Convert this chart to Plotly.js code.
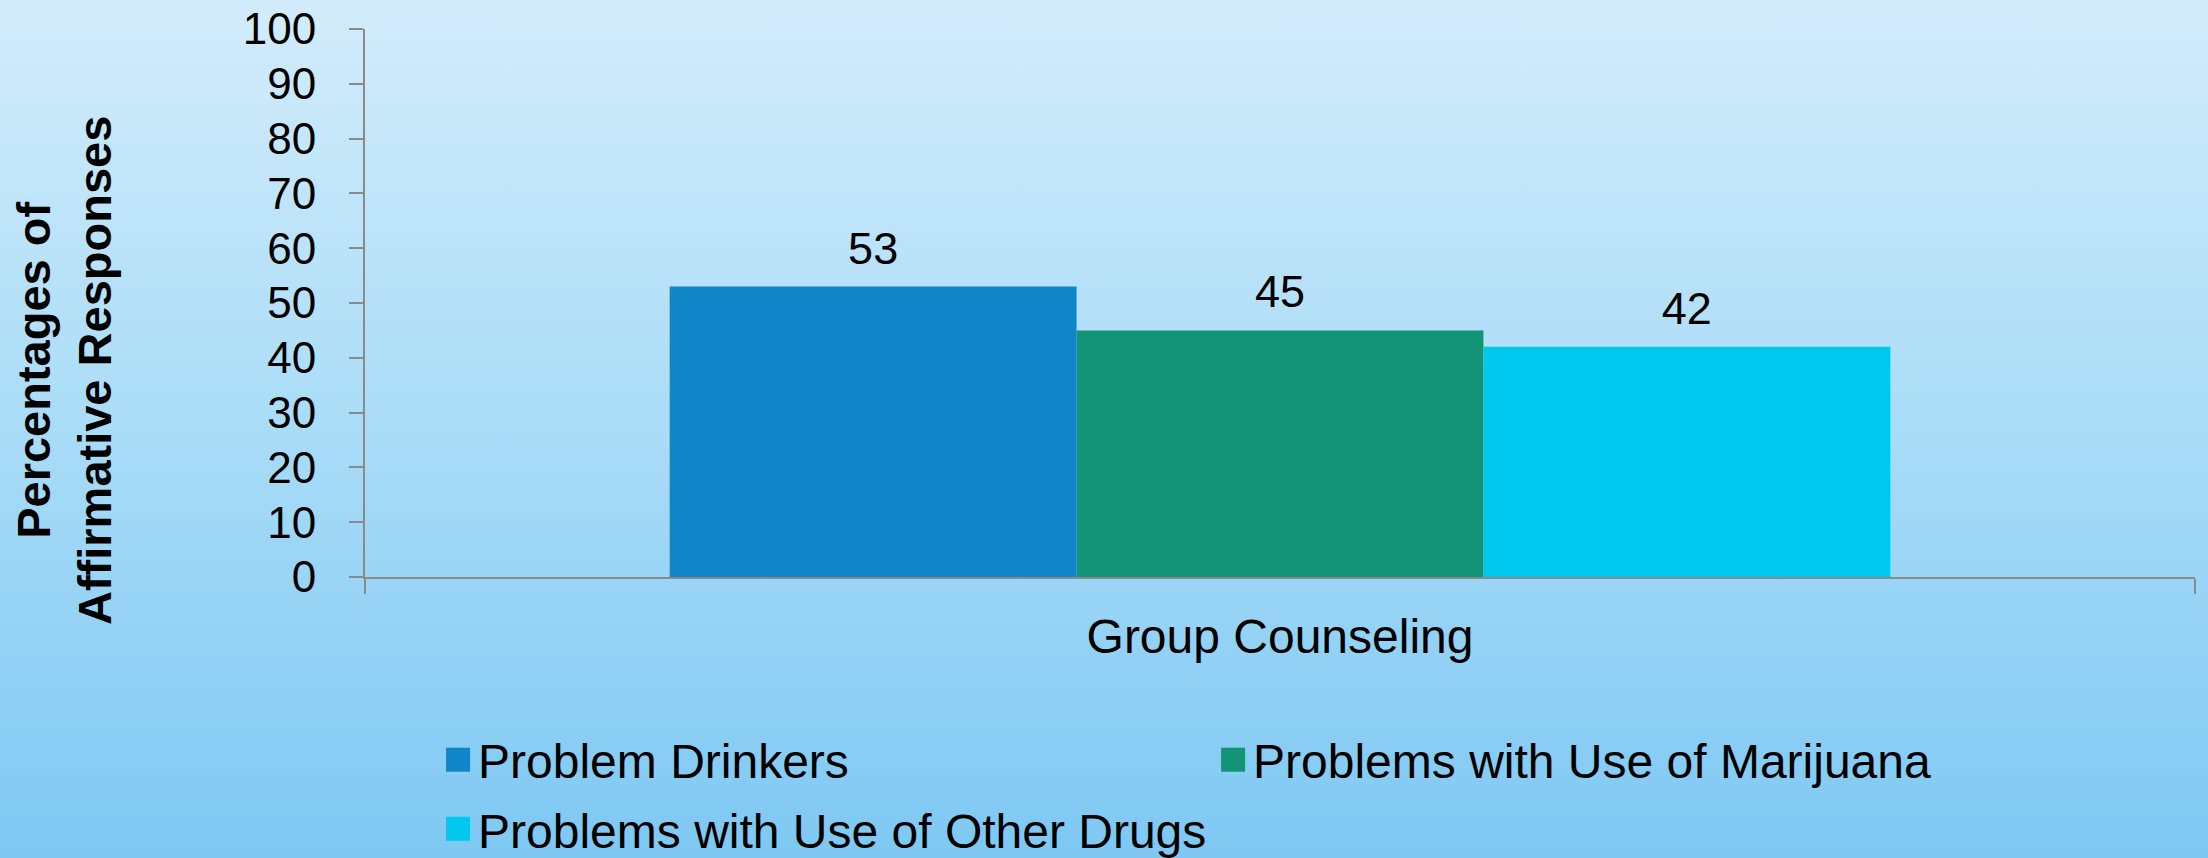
<!DOCTYPE html>
<html>
<head>
<meta charset="utf-8">
<script src="https://cdn.plot.ly/plotly-3.0.1.min.js"></script>
<style>
  html, body { margin: 0; padding: 0; }
  body { width: 2208px; height: 858px; background: linear-gradient(to bottom, #d3ecfb 0%, #a9dcf7 50%, #7ec8f3 100%); }
  #chart { width: 2208px; height: 858px; }
</style>
</head>
<body>
<div id="chart"></div>
<script>
// ---- data ----
const categories = ["Group Counseling"];
const seriesNames = ["Problem Drinkers", "Problems with Use of Marijuana", "Problems with Use of Other Drugs"];
const problemDrinkers = [53];
const marijuana = [45];
const otherDrugs = [42];
const seriesColors = ["#1085c8", "#149476", "#00c7ee"];
const seriesLegends = ["legend", "legend", "legend2"];
const yTickVals = [0, 10, 20, 30, 40, 50, 60, 70, 80, 90, 100];
const yTitleLines = ["Percentages of", "Affirmative Responses"];

const FONT = "'Liberation Sans', Arial, Helvetica, sans-serif";
const seriesValues = [problemDrinkers, marijuana, otherDrugs];

const traces = seriesNames.map((name, i) => ({
  type: "bar",
  name: name,
  legend: seriesLegends[i],
  x: categories,
  y: seriesValues[i],
  marker: { color: seriesColors[i], line: { width: 0 } },
  text: seriesValues[i].map(String),
  textposition: "outside",
  textfont: { family: FONT, size: 45, color: "#000000" },
  cliponaxis: false,
  hoverinfo: "x+y+name"
}));

const legendBase = {
  orientation: "h",
  xref: "container", yref: "container",
  x: 0.1984,
  xanchor: "left", yanchor: "top",
  font: { family: FONT, size: 48, color: "#000000" },
  entrywidth: 730,
  entrywidthmode: "pixels",
  bgcolor: "rgba(0,0,0,0)",
  traceorder: "normal"
};

const layout = {
  width: 2208,
  height: 858,
  margin: { l: 365, r: 13, t: 29, b: 281, pad: 0 },
  paper_bgcolor: "rgba(0,0,0,0)",
  plot_bgcolor: "rgba(0,0,0,0)",
  font: { family: FONT, color: "#000000" },
  barmode: "group",
  bargap: 0.333,
  bargroupgap: 0,
  showlegend: true,
  legend: Object.assign({}, legendBase, { y: 0.1585 }),
  legend2: Object.assign({}, legendBase, { y: 0.078 }),
  xaxis: {
    type: "category",
    showline: true, linecolor: "#8a8a8a", linewidth: 2,
    ticks: "outside", tickson: "boundaries", ticklen: 15, tickcolor: "#8a8a8a", tickwidth: 2,
    tickfont: { family: FONT, size: 48, color: "#000000" },
    ticklabelstandoff: 16,
    showgrid: false, zeroline: false,
    fixedrange: true
  },
  yaxis: {
    range: [0, 100],
    tickvals: yTickVals,
    ticktext: yTickVals.map(String),
    showline: true, linecolor: "#8a8a8a", linewidth: 2,
    ticks: "outside", ticklen: 14, tickcolor: "#8a8a8a", tickwidth: 2,
    tickfont: { family: FONT, size: 44, color: "#000000" },
    ticklabelstandoff: 24,
    showgrid: false, zeroline: false,
    fixedrange: true
  },
  annotations: [{
    xref: "paper", yref: "paper",
    x: 0, y: 0.5,
    xshift: -301, yshift: -68,
    xanchor: "center", yanchor: "middle",
    text: "<b>" + yTitleLines.join("<br>") + "</b>",
    textangle: -90,
    showarrow: false,
    font: { family: FONT, size: 47, color: "#000000" }
  }]
};

Plotly.newPlot("chart", traces, layout, { displayModeBar: false, responsive: false, staticPlot: true }).then(() => {
  document.querySelectorAll(".legendpoints path").forEach(p => {
    const t = p.getAttribute("transform") || "";
    p.setAttribute("transform", t + " scale(2)");
    p.style.strokeWidth = "0px";
  });
  document.querySelectorAll("text.bartext").forEach(tx => {
    const t = tx.getAttribute("transform") || "";
    tx.setAttribute("transform", "translate(0,-10) " + t);
  });
});
</script>
</body>
</html>
